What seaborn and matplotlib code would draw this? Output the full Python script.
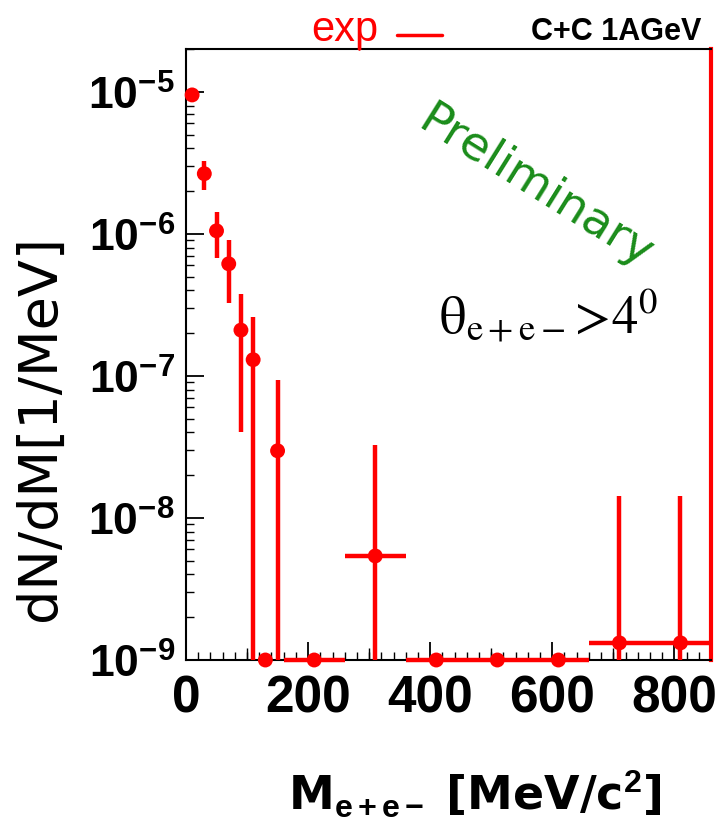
import numpy as np
import pandas as pd
import matplotlib
matplotlib.use("Agg")
import matplotlib.pyplot as plt
import seaborn as sns
from matplotlib.ticker import FixedLocator, LogLocator, MultipleLocator, NullFormatter
from matplotlib.lines import Line2D

# Dielectron invariant-mass spectrum, C+C at 1 AGeV
mass = [10, 30, 50, 70, 90, 110, 130, 150, 210, 310, 410, 510, 610, 710, 810]
bin_half_width = [10, 10, 10, 10, 10, 10, 10, 10, 50, 50, 50, 50, 50, 50, 50]
dn_dm = [9.5e-6, 2.65e-6, 1.05e-6, 6.15e-7, 2.1e-7, 1.3e-7, 0.0, 2.97e-8,
         0.0, 5.4e-9, 0.0, 0.0, 0.0, 1.32e-9, 1.32e-9]
stat_err = [0.5e-6, 0.62e-6, 0.37e-6, 0.29e-6, 1.7e-7, 1.3e-7, 0.0, 6.4e-8,
            0.0, 2.7e-8, 0.0, 0.0, 0.0, 1.3e-8, 1.3e-8]

y_decades = [1e-9, 1e-8, 1e-7, 1e-6, 1e-5]
y_tick_labels = [r"$\mathbf{10^{-9}}$", r"$\mathbf{10^{-8}}$", r"$\mathbf{10^{-7}}$",
                 r"$\mathbf{10^{-6}}$", r"$\mathbf{10^{-5}}$"]
x_ticks = [0, 200, 400, 600, 800]
x_tick_labels = ["0", "200", "400", "600", "800"]

y_floor, y_top = 1e-9, 2e-5
x_min, x_max = 0, 860

sns.set_theme(style="ticks")
plt.rcParams["font.family"] = ["Liberation Sans", "DejaVu Sans"]
plt.rcParams["text.color"] = "black"
plt.rcParams["mathtext.fontset"] = "custom"
plt.rcParams["mathtext.rm"] = "Liberation Sans"
plt.rcParams["mathtext.bf"] = "Liberation Sans:bold"
plt.rcParams["mathtext.it"] = "Liberation Sans:italic"

df = pd.DataFrame({"mass": mass, "hw": bin_half_width, "val": dn_dm, "err": stat_err})
# empty bins sit on the lower edge of the log axis
df["y"] = np.where(df.val > 0, df.val, y_floor)
df["lo"] = np.where(df.val - df.err > y_floor, df.err, df.y - y_floor)
df["hi"] = df.err

fig = plt.figure(figsize=(7.16, 8.2), dpi=100)
ax = fig.add_axes([186 / 716, 1 - 661 / 820, (711 - 186) / 716, (661 - 50) / 820])
ax.set_yscale("log")

ax.errorbar(df.mass, df.y, xerr=df.hw, yerr=[df.lo, df.hi], fmt="none",
            ecolor="#ff0000", elinewidth=3.2, capsize=0, clip_on=False, zorder=3)
sns.scatterplot(data=df, x="mass", y="y", color="#ff0000", s=115, edgecolor="none",
                ax=ax, clip_on=False, zorder=4, legend=False)

ax.set_xlim(x_min, x_max)
ax.set_ylim(y_floor, y_top)

ax.yaxis.set_major_locator(FixedLocator(y_decades))
ax.set_yticklabels(y_tick_labels)
ax.yaxis.set_minor_locator(LogLocator(base=10, subs=np.arange(2, 10)))
ax.yaxis.set_minor_formatter(NullFormatter())
ax.xaxis.set_major_locator(FixedLocator(x_ticks))
ax.set_xticklabels(x_tick_labels)
ax.xaxis.set_minor_locator(MultipleLocator(20))

ax.tick_params(axis="both", which="major", direction="in", length=13, width=1.3,
               color="black", labelcolor="black", top=False, right=False)
ax.tick_params(axis="both", which="minor", direction="in", length=6, width=1.0,
               color="black", top=False, right=False)
ax.tick_params(axis="y", which="major", labelsize=32, pad=8)
ax.tick_params(axis="x", which="major", labelsize=37, pad=10)
for lbl in ax.get_xticklabels() + ax.get_yticklabels():
    lbl.set_fontweight("bold")

# intermediate ticks every 100 MeV
sec = ax.secondary_xaxis("bottom")
sec.set_xticks([100, 300, 500, 700])
sec.tick_params(direction="in", length=9, width=1.0, labelbottom=False, color="black")
for s in sec.spines.values():
    s.set_visible(False)

for side in ["left", "bottom", "top"]:
    ax.spines[side].set_color("black")
    ax.spines[side].set_linewidth(1.5)
ax.spines["right"].set_color("#ff0000")
ax.spines["right"].set_linewidth(3)

ax.set_xlabel("")
ax.set_ylabel("")

fig.text(40 / 716, 1 - 428 / 820, "dN/dM[1/MeV]", rotation=90, ha="center", va="center",
         fontsize=39, family=["DejaVu Sans"])
fig.text(475 / 716, 1 - 795 / 820, r"M$_{\mathbf{e+e-}}$ [MeV/c$^{\mathbf{2}}$]",
         ha="center", va="center", fontsize=33, fontweight="bold", family=["DejaVu Sans"])

fig.text(345 / 716, 1 - 30 / 820, "exp", color="#ff0000", ha="center", va="center",
         fontsize=30)
fig.add_artist(Line2D([397 / 716, 442 / 716], [1 - 36 / 820, 1 - 36 / 820],
                      color="#ff0000", lw=2.5, transform=fig.transFigure))
fig.add_artist(Line2D([359 / 716, 359 / 716], [1 - 42 / 820, 1 - 50 / 820],
                      color="#ff0000", lw=2, transform=fig.transFigure))
fig.text(616 / 716, 1 - 32 / 820, "C+C 1AGeV", color="black", ha="center", va="center",
         fontsize=22, fontweight="bold")

ax.text(0.665, 0.775, "Preliminary", transform=ax.transAxes, rotation=-32,
        rotation_mode="anchor", ha="center", va="center", color="#1a8c1a", fontsize=34,
        family=["DejaVu Sans"])
ax.text(0.69, 0.565, r"$\mathrm{\theta_{e+e-}}\!>\!\mathrm{4^0}$", transform=ax.transAxes,
        ha="center", va="center", fontsize=38, color="black", math_fontfamily="stix")

fig.savefig("out.png", dpi=100, facecolor="white")
